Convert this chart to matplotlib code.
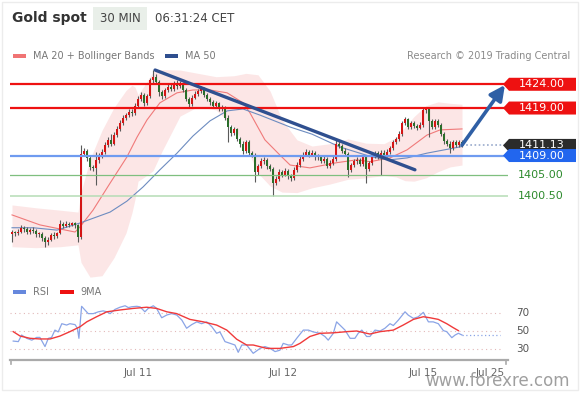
import numpy as np
import matplotlib
matplotlib.use('Agg')
import matplotlib.pyplot as plt
import matplotlib.transforms as mtransforms
from matplotlib.patches import Polygon, Rectangle

# 30 min candles, bar 0 = Jul 10 03:00 CET
closes = [1392.8, 1392.6, 1392.9, 1393.8, 1393.5, 1392.9, 1393.4, 1393.2, 1392.4, 1392.5,
          1391.6, 1390.8, 1391.3, 1392.2, 1392.0, 1392.6, 1394.5, 1394.2, 1394.6, 1394.4,
          1394.7, 1394.3, 1391.8, 1409.4, 1410.0, 1408.5, 1406.5, 1406.3, 1408.0, 1409.0,
          1409.8, 1411.2, 1412.3, 1411.5, 1413.4, 1414.6, 1415.8, 1416.8, 1417.5, 1418.2,
          1418.0, 1419.5, 1420.9, 1421.8, 1420.0, 1421.5, 1424.8, 1425.6, 1424.5, 1422.3,
          1421.5, 1422.8, 1423.5, 1423.0, 1424.2, 1423.6, 1424.0, 1422.8, 1421.0, 1419.8,
          1421.2, 1422.0, 1422.6, 1423.0, 1421.8, 1421.0, 1420.2, 1419.5, 1420.0, 1418.8,
          1419.0, 1417.0, 1415.0, 1413.8, 1414.5, 1412.5, 1411.5, 1410.0, 1411.8, 1409.6,
          1409.2, 1405.5, 1406.8, 1407.8, 1408.0, 1406.8, 1406.2, 1403.3, 1404.0, 1405.6,
          1405.0, 1405.8, 1404.6, 1404.2, 1406.0, 1407.0, 1408.2, 1409.2, 1409.8, 1409.2,
          1409.6, 1408.6, 1408.8, 1407.9, 1408.2, 1406.8, 1407.5, 1408.2, 1411.5, 1411.0,
          1410.0, 1409.3, 1406.0, 1407.0, 1407.8, 1408.0, 1407.2, 1408.6, 1406.2, 1407.4,
          1408.8, 1409.5, 1408.8, 1409.6, 1409.0, 1409.8, 1410.5, 1411.8, 1412.4, 1413.6,
          1415.8, 1416.6, 1415.0, 1415.8, 1415.2, 1414.9, 1415.4, 1418.5, 1418.8, 1416.2,
          1415.0, 1416.2, 1415.5, 1413.6, 1412.0, 1411.5, 1410.6, 1411.8, 1411.3, 1411.8,
          1411.13]
highs = [1393.4, 1393.2, 1393.5, 1394.3, 1394.2, 1393.9, 1393.8, 1393.9, 1393.6, 1393.0,
         1392.8, 1392.0, 1391.8, 1392.6, 1392.8, 1393.0, 1395.5, 1395.0, 1395.2, 1395.0,
         1395.1, 1395.0, 1394.6, 1411.2, 1410.6, 1410.4, 1409.0, 1407.0, 1409.8, 1409.6,
         1410.4, 1411.8, 1412.9, 1413.6, 1414.0, 1415.2, 1416.4, 1417.5, 1418.0, 1418.7,
         1418.8, 1420.0, 1421.5, 1422.4, 1422.2, 1422.0, 1425.4, 1427.0, 1426.2, 1424.9,
         1422.7, 1423.3, 1424.0, 1424.1, 1424.7, 1424.8, 1424.6, 1424.4, 1423.2, 1421.4,
         1421.7, 1422.5, 1423.1, 1423.6, 1423.4, 1422.2, 1421.4, 1420.6, 1420.5, 1420.3,
         1419.6, 1419.4, 1417.5, 1415.5, 1415.0, 1414.8, 1413.0, 1412.0, 1412.3, 1412.2,
         1410.0, 1409.6, 1407.3, 1408.4, 1408.6, 1408.4, 1407.3, 1406.6, 1404.6, 1406.1,
         1406.0, 1406.3, 1406.2, 1405.1, 1406.5, 1407.6, 1408.8, 1409.8, 1410.3, 1410.2,
         1410.2, 1410.0, 1409.4, 1409.2, 1408.8, 1408.6, 1408.0, 1408.8, 1412.3, 1412.0,
         1411.5, 1410.5, 1409.7, 1407.5, 1408.3, 1408.6, 1408.4, 1409.2, 1409.0, 1407.9,
         1409.3, 1410.0, 1410.0, 1410.2, 1410.1, 1410.4, 1411.0, 1412.3, 1413.0, 1414.1,
         1416.3, 1417.2, 1417.0, 1416.3, 1416.2, 1415.6, 1416.0, 1419.0, 1419.3, 1419.2,
         1416.6, 1416.7, 1416.6, 1415.9, 1414.0, 1412.5, 1412.0, 1412.3, 1412.2, 1412.3,
         1412.2]
lows = [1390.9, 1392.0, 1392.2, 1392.6, 1393.0, 1392.4, 1392.5, 1392.7, 1391.9, 1391.8,
        1391.0, 1389.8, 1390.2, 1391.0, 1391.5, 1391.6, 1392.4, 1393.8, 1393.9, 1394.0,
        1394.1, 1393.8, 1390.9, 1391.5, 1408.8, 1407.8, 1406.0, 1405.8, 1402.8, 1407.4,
        1408.5, 1409.4, 1410.8, 1411.0, 1411.2, 1413.0, 1414.2, 1415.4, 1416.4, 1417.1,
        1417.4, 1417.6, 1419.1, 1420.5, 1419.5, 1419.6, 1421.2, 1424.2, 1424.0, 1421.6,
        1420.8, 1421.1, 1422.4, 1422.6, 1422.6, 1423.1, 1423.2, 1422.3, 1420.4, 1419.0,
        1419.4, 1420.8, 1421.6, 1422.2, 1421.3, 1420.5, 1419.7, 1419.0, 1419.1, 1418.3,
        1418.3, 1416.5, 1411.8, 1413.2, 1413.3, 1412.0, 1410.9, 1409.3, 1409.6, 1409.0,
        1408.6, 1403.5, 1405.0, 1406.3, 1407.2, 1406.2, 1405.7, 1400.4, 1402.8, 1403.6,
        1404.5, 1404.6, 1404.0, 1403.6, 1403.8, 1405.6, 1406.6, 1407.8, 1408.8, 1408.7,
        1408.8, 1408.1, 1408.1, 1407.4, 1407.4, 1406.3, 1406.3, 1407.0, 1407.9, 1410.5,
        1409.5, 1408.8, 1404.5, 1405.6, 1406.6, 1407.3, 1406.7, 1406.8, 1403.2, 1405.8,
        1407.0, 1408.4, 1408.3, 1405.0, 1408.5, 1408.6, 1409.4, 1410.1, 1411.4, 1412.0,
        1413.2, 1415.4, 1414.6, 1414.6, 1414.8, 1414.4, 1414.5, 1415.0, 1418.0, 1413.0,
        1414.5, 1414.6, 1415.0, 1413.1, 1411.5, 1411.0, 1409.5, 1410.2, 1410.9, 1410.9,
        1410.8]
first_open = 1392.5

# bollinger bands
bb_bars = [0, 8, 16, 22, 23, 26, 30, 34, 38, 40, 41, 42, 44, 47, 50, 56, 62, 68, 74, 78,
           82, 86, 90, 95, 100, 106, 112, 118, 124, 128, 131, 134, 138, 142, 146, 150]
bb_upper = [1398.6, 1398.0, 1397.5, 1397.1, 1401.3, 1408.2, 1414.3, 1419.1, 1422.7, 1423.8,
            1423.4, 1421.8, 1423.6, 1426.6, 1427.1, 1427.0, 1426.3, 1425.6, 1425.8, 1426.3,
            1426.0, 1422.6, 1416.5, 1412.3, 1411.0, 1411.5, 1412.5, 1411.6, 1411.5, 1412.8,
            1415.0, 1417.2, 1419.5, 1420.3, 1420.0, 1419.8]
bb_lower = [1389.8, 1389.6, 1389.8, 1390.2, 1386.5, 1383.4, 1383.7, 1387.5, 1392.7, 1397.0,
            1399.8, 1403.6, 1404.4, 1405.8, 1409.9, 1417.3, 1419.3, 1418.6, 1414.9, 1410.7,
            1405.3, 1402.6, 1401.3, 1401.2, 1402.2, 1403.0, 1404.0, 1404.3, 1404.8, 1404.5,
            1403.7, 1403.6, 1404.3, 1405.6, 1406.6, 1407.0]

ma20_bars = [0, 9.3, 21, 22.7, 27, 32.7, 38.3, 41.7, 45, 49.3, 55, 60.3, 66, 71.7, 77,
             79.3, 84.3, 89.3, 92.7, 99.3, 108.3, 115, 119.3, 126, 131.7, 138.3, 142.7, 150]
ma20 = [1396.5, 1394.4, 1392.9, 1394.0, 1397.5, 1403.2, 1408.7, 1412.9, 1416.5, 1420.1,
        1422.2, 1422.8, 1422.8, 1422.2, 1420.1, 1418.0, 1412.3, 1409.1, 1407.0, 1406.4,
        1407.5, 1408.1, 1407.7, 1408.5, 1410.2, 1413.3, 1414.4, 1414.6]

ma50_bars = [0, 7, 15, 22.7, 32.7, 38.3, 43.7, 49.3, 55, 60.3, 66, 71.7, 77, 82.7, 92.7,
             100, 109.3, 120, 126, 131.7, 138.3, 150]
ma50 = [1393.8, 1393.8, 1393.3, 1394.8, 1397.1, 1399.4, 1402.4, 1406.0, 1409.5, 1413.1,
        1416.3, 1418.4, 1418.8, 1417.5, 1415.0, 1413.5, 1410.8, 1408.7, 1408.1, 1408.5,
        1409.5, 1410.9]

# RSI and its 9 period average
rsi_bars = [0.4, 2.1, 3.2, 4.9, 6.6, 8.2, 9.3, 10.4, 11, 12.1, 13.2, 14.3, 15.4, 16.6, 18.2,
            19.3, 21, 21.8, 22.3, 23.2, 24.3, 25.4, 27.1, 28.8, 30.4, 31.6, 32.7, 34.3, 36,
            37.7, 38.8, 39.9, 41.6, 42.7, 44.3, 45.4, 47.1, 48.2, 49.9, 51.6, 53.2, 54.9,
            56.6, 58.2, 59.9, 61.6, 63.2, 64.9, 66.6, 68.2, 69.3, 71, 72.7, 74.3, 75.4, 76.6,
            78.2, 80.4, 82.7, 84.3, 86, 87.7, 89.3, 90.4, 92.1, 93.2, 94.9, 97.1, 98.8, 100.4,
            102.7, 104.3, 105.4, 107.1, 108.2, 109.3, 111, 112.7, 114.3, 115.4, 116.6, 118.2,
            119.3, 121, 122.7, 124.3, 126, 127.1, 128.8, 131, 132.1, 133.8, 135.4, 137.1,
            138.8, 140.4, 142.1, 143.8, 144.9, 146.6, 147.7, 148.8, 150]
rsi = [39, 38.4, 45.6, 42, 40, 43, 43, 36.5, 33, 42, 43, 51, 49, 58, 56.5,
       58, 57, 53, 42, 77, 73, 69, 69, 71, 72, 71, 69, 73.6, 76,
       77.6, 75.6, 76.5, 77, 76.4, 71, 74.7, 77.6, 74.7, 64.5, 67.5, 69, 67.5,
       62, 53, 57, 60, 58, 60, 54.7, 47.5, 49, 38.4, 36.5, 34.7, 26.7, 34.7,
       34.7, 25.6, 31, 33, 31, 27.5, 29, 36.5, 34.7, 34.7, 42, 51, 51, 49,
       47.5, 44, 40, 47.5, 60, 56.5, 51, 42, 42, 47.5, 51, 44,
       44, 51, 50, 53, 58, 56, 62, 71, 67.3, 63.8, 65.5, 70.4,
       60, 60, 58, 50.4, 49.3, 42.7, 45.6, 47.5, 45.6]
rsi9_bars = [0.4, 2.7, 6, 9.3, 12.7, 16, 19.3, 22.7, 24.9, 28.2, 31.6, 36, 40.4, 44.9, 48.2,
             51.6, 54.9, 59.3, 63.8, 68.2, 71.6, 74.9, 78.2, 80.4, 84.9, 89.3, 93.8, 96,
             99.3, 102.7, 107.1, 111.6, 114.9, 119.3, 122.7, 127.1, 130.4, 133.8, 137.1,
             139.3, 142.1, 144.9, 147.1, 148.8]
rsi9 = [49.3, 44.5, 42, 41.3, 41.3, 44.5, 49.3, 54.7, 60, 65.6, 71, 73, 74.7, 76, 74.7,
        71, 69, 62.7, 60, 56.5, 51, 41, 34.7, 34.7, 31, 31, 33, 36.5,
        44, 47.5, 48, 49.3, 50, 46.7, 49.3, 51, 56.5, 62.7, 65.6,
        64.5, 62.7, 58, 53.6, 50.4]

levels = [1424.00, 1419.00, 1409.00, 1405.00, 1400.50]
last_price = 1411.13
trend_bars = [47.7, 134.3]
trend_prices = [1427.0, 1406.0]
arrow_bars = [150, 164.3]
arrow_prices = [1411.2, 1423.85]
date_ticks = [42, 90.3, 137, 159.3]
date_labels = ['Jul 11', 'Jul 12', 'Jul 15', 'Jul 25']

W, H = 580, 393
fig = plt.figure(figsize=(W / 100, H / 100), dpi=100)
fig.patch.set_facecolor('white')


def fx(x):
    return x / W


def fy(y):
    return 1 - y / H


fig.patches.append(Rectangle((fx(2), fy(390)), fx(576), 388 / H, transform=fig.transFigure,
                             facecolor='none', edgecolor='#ececec', lw=1))

# header
fig.text(fx(12), fy(18), 'Gold spot', fontsize=10, fontweight='bold', color='#333333', va='center')
fig.patches.append(Rectangle((fx(93), fy(30)), fx(54), 23 / H, transform=fig.transFigure,
                             facecolor='#e9efe9', edgecolor='none'))
fig.text(fx(120), fy(18), '30 MIN', fontsize=8.5, color='#444444', va='center', ha='center')
fig.text(fx(155), fy(18), '06:31:24 CET', fontsize=8.5, color='#444444', va='center')

# legends
fig.patches.append(Rectangle((fx(13), fy(58)), fx(13), 4 / H, transform=fig.transFigure,
                             facecolor='#f07474', edgecolor='none'))
fig.text(fx(33), fy(56), 'MA 20 + Bollinger Bands', fontsize=7, color='#777777', va='center')
fig.patches.append(Rectangle((fx(165), fy(58)), fx(13), 4 / H, transform=fig.transFigure,
                             facecolor='#2f4f8f', edgecolor='none'))
fig.text(fx(185), fy(56), 'MA 50', fontsize=7, color='#777777', va='center')
fig.text(fx(570), fy(56), 'Research \u00a9 2019 Trading Central', fontsize=7, color='#8a8a8a',
         va='center', ha='right')

fig.patches.append(Rectangle((fx(13), fy(294)), fx(13), 4 / H, transform=fig.transFigure,
                             facecolor='#6688dd', edgecolor='none'))
fig.text(fx(33), fy(292), 'RSI', fontsize=7, color='#777777', va='center')
fig.patches.append(Rectangle((fx(60), fy(294)), fx(14), 4 / H, transform=fig.transFigure,
                             facecolor='#ee1111', edgecolor='none'))
fig.text(fx(80), fy(292), '9MA', fontsize=7, color='#777777', va='center')

# price panel
ax = fig.add_axes([fx(10), fy(278), fx(498), 216 / H])
ax.set_facecolor('none')
for s in ax.spines.values():
    s.set_visible(False)
ax.set_xticks([])
ax.set_yticks([])

ax.fill_between(bb_bars, bb_lower, bb_upper, color='#fbdcdc', alpha=0.7, lw=0, zorder=1)
ax.plot(ma20_bars, ma20, color='#f07a7a', lw=0.8, zorder=2)
ax.plot(ma50_bars, ma50, color='#6d8cc0', lw=0.8, zorder=2)

n = np.arange(len(closes))
opens = [first_open] + closes[:-1]
up_col = '#d41515'
dn_col = '#2a6e2a'
cols = [up_col if c >= o else dn_col for o, c in zip(opens, closes)]
ax.vlines(n, lows, highs, color='#5a5a5a', lw=0.8, zorder=3)
bot = np.minimum(opens, closes)
hgt = np.maximum(np.abs(np.array(closes) - np.array(opens)), 0.2)
ax.bar(n, hgt, bottom=bot, width=0.8, color=cols, lw=0, zorder=4)

ax.axhline(levels[0], color='#ee1111', lw=1.6, zorder=5)
ax.axhline(levels[1], color='#ee1111', lw=1.6, zorder=5)
ax.axhline(levels[2], color='#6f9bf0', lw=1.6, zorder=5)
ax.axhline(levels[3], color='#7fbf7f', lw=0.9, zorder=5)
ax.axhline(levels[4], color='#b5dcb5', lw=1.1, zorder=5)
ax.plot([n[-1], 165.33], [last_price, last_price], color='#99aacc', lw=1.2, ls=(0, (1, 1.5)), zorder=5)

ax.plot(trend_bars, trend_prices, color='#2f4f8f', lw=2.4, zorder=6, solid_capstyle='round')
ax.annotate('', xy=(arrow_bars[1], arrow_prices[1]), xytext=(arrow_bars[0], arrow_prices[0]),
            arrowprops=dict(arrowstyle='-|>,head_length=0.9,head_width=0.45', color='#2f5fa5',
                            lw=2.6, shrinkA=0, shrinkB=0), zorder=7, annotation_clip=False)

# price tags on the right
tr = mtransforms.blended_transform_factory(fig.transFigure, ax.transData)
hh = 6.5 / 4.75


def tag(price, face, text):
    pts = [[fx(503), price], [fx(509), price + hh], [fx(576), price + hh],
           [fx(576), price - hh], [fx(509), price - hh]]
    ax.add_patch(Polygon(pts, closed=True, transform=tr, facecolor=face, edgecolor='none',
                         clip_on=False, zorder=8))
    ax.text(fx(542), price, text, transform=tr, color='white', fontsize=8, ha='center',
            va='center', clip_on=False, zorder=9)


tag(levels[0], '#ee1111', '1424.00')
tag(levels[1], '#ee1111', '1419.00')
tag(last_price, '#2b2b2b', '%.2f' % last_price)
tag(levels[2], '#2266ee', '1409.00')
ax.text(fx(541), levels[3], '1405.00', transform=tr, color='#2e8b2e', fontsize=8, ha='center',
        va='center', clip_on=False)
ax.text(fx(541), levels[4], '1400.50', transform=tr, color='#2e8b2e', fontsize=8, ha='center',
        va='center', clip_on=False)
ax.set_xlim(-0.67, 165.33)
ax.set_ylim(1383.22, 1428.69)

# RSI panel
ax2 = fig.add_axes([fx(10), fy(360), fx(498), 60 / H])
ax2.set_facecolor('none')
for k in ['top', 'right', 'left']:
    ax2.spines[k].set_visible(False)
ax2.spines['bottom'].set_color('#aaaaaa')
ax2.spines['bottom'].set_linewidth(1.6)
for g in [30, 50, 70]:
    ax2.plot([-0.67, 163], [g, g], color='#e2b8b8', lw=0.8, ls=(0, (1, 3)))
    fig.text(fx(523), fy(349.3 - (g - 30) * 0.915), str(g), fontsize=7.5, color='#555555',
             ha='center', va='center')
ax2.plot(rsi_bars, rsi, color='#8aa4e6', lw=0.9)
ax2.plot(rsi9_bars, rsi9, color='#f03a3a', lw=1.0)
ax2.plot([rsi_bars[-1], 162.7], [rsi[-1], rsi[-1]], color='#8aa4e6', lw=0.9, ls=(0, (1, 2)))
ax2.plot([0.002, 0.002], [0, -0.07], transform=ax2.transAxes, color='#aaaaaa', lw=1.2, clip_on=False)
ax2.plot([0.996, 0.996], [0, -0.07], transform=ax2.transAxes, color='#aaaaaa', lw=1.2, clip_on=False)
ax2.set_xlim(-0.67, 165.33)
ax2.set_ylim(18.3, 83.9)
ax2.set_yticks([])
ax2.set_xticks(date_ticks)
ax2.set_xticklabels(date_labels, fontsize=7.5, color='#666666')
ax2.tick_params(axis='x', length=0, pad=6)

fig.text(fx(570), fy(381), 'www.forexre.com', fontsize=12, color='#777777', alpha=0.7,
         ha='right', va='center')

fig.savefig('out.png', dpi=100, facecolor='white')
